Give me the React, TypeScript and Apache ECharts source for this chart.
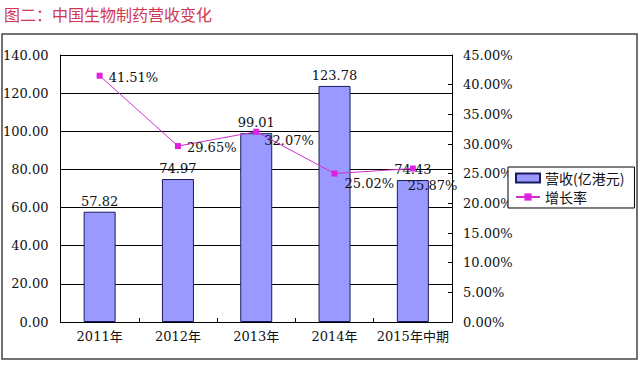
import React, { useEffect, useRef } from "react";
import * as echarts from "echarts";

const categories = ["2011年", "2012年", "2013年", "2014年", "2015年中期"];
const revenue = [57.82, 74.97, 99.01, 123.78, 74.43];
const growth = [41.51, 29.65, 32.07, 25.02, 25.87];
const growthLabelPos: [number, number][] = [
  [12, 5],
  [12, 4],
  [11, 12],
  [13, 13],
  [-2, 20],
];
const leftTicks = { min: 0, max: 140, interval: 20 };
const rightTicks = { min: 0, max: 45, interval: 5 };

const FONT = "'DejaVu Serif', 'Noto Sans CJK SC', serif";

export default function App() {
  const ref = useRef<HTMLDivElement>(null);
  useEffect(() => {
    if (!ref.current) return;
    const chart = echarts.init(ref.current, null, { renderer: "svg" });
    chart.setOption({
      animation: false,
      backgroundColor: "#ffffff",
      textStyle: { fontFamily: FONT },
      title: {
        text: "图二：中国生物制药营收变化",
        left: 2,
        top: 4,
        padding: 2,
        textStyle: {
          fontFamily: "'Noto Sans CJK SC', sans-serif",
          fontSize: 16,
          fontWeight: "normal",
          color: "#d03552",
        },
      },
      graphic: [
        {
          type: "rect",
          shape: { x: 2, y: 34, width: 635, height: 325 },
          style: { fill: "none", stroke: "#444", lineWidth: 1.5 },
          z: -1,
        },
      ],
      legend: {
        left: 508,
        top: 167,
        orient: "vertical",
        padding: [4, 10, 4, 7],
        itemGap: 5,
        itemWidth: 24,
        itemHeight: 9,
        borderColor: "#000",
        borderWidth: 1,
        backgroundColor: "#fff",
        textStyle: {
          fontFamily: "'Noto Sans CJK SC', sans-serif",
          fontSize: 14,
          color: "#111",
        },
        data: [
          { name: "营收(亿港元)", icon: "rect" },
          { name: "增长率" },
        ],
      },
      grid: { left: 60, right: 188, top: 55, bottom: 48, containLabel: false },
      xAxis: {
        type: "category",
        data: categories,
        axisLine: { show: true, lineStyle: { color: "#000", width: 1 } },
        axisTick: { show: true, inside: true, length: 4, lineStyle: { color: "#000" } },
        axisLabel: { color: "#111", fontSize: 13, margin: 8, interval: 0, fontFamily: FONT },
      },
      yAxis: [
        {
          type: "value",
          min: leftTicks.min,
          max: leftTicks.max,
          interval: leftTicks.interval,
          position: "left",
          axisLine: { show: true, lineStyle: { color: "#000" } },
          axisTick: { show: false },
          splitLine: { show: true, lineStyle: { color: "#000", width: 1 } },
          axisLabel: {
            color: "#111",
            fontSize: 13,
            margin: 12,
            fontFamily: FONT,
            formatter: (v: number) => v.toFixed(2),
          },
        },
        {
          type: "value",
          min: rightTicks.min,
          max: rightTicks.max,
          interval: rightTicks.interval,
          position: "right",
          axisLine: { show: true, lineStyle: { color: "#000" } },
          axisTick: { show: true, inside: true, length: 4, lineStyle: { color: "#000" } },
          splitLine: { show: false },
          axisLabel: {
            color: "#111",
            fontSize: 13,
            margin: 11,
            fontFamily: FONT,
            formatter: (v: number) => v.toFixed(2) + "%",
          },
        },
      ],
      series: [
        {
          name: "营收(亿港元)",
          type: "bar",
          yAxisIndex: 0,
          barWidth: 32,
          data: revenue,
          itemStyle: { color: "#9999ff", borderColor: "#1a1a5e", borderWidth: 1 },
          label: {
            show: true,
            position: "top",
            distance: 4,
            color: "#111",
            fontSize: 13,
            fontFamily: FONT,
            formatter: (p: any) => p.value.toFixed(2),
          },
        },
        {
          name: "增长率",
          type: "line",
          yAxisIndex: 1,
          symbol: "rect",
          symbolSize: 6,
          lineStyle: { color: "#d030d0", width: 1 },
          itemStyle: { color: "#e020e0" },
          data: growth.map((v, i) => ({
            value: v,
            label: {
              show: true,
              position: growthLabelPos[i],
              align: "left",
              verticalAlign: "middle",
              color: "#111",
              fontSize: 13,
              fontFamily: FONT,
              formatter: (p: any) => p.value.toFixed(2) + "%",
            },
          })),
          z: 5,
        },
      ],
    });
    return () => chart.dispose();
  }, []);
  return (
    <div
      ref={ref}
      style={{ position: "fixed", left: 0, top: 0, width: 640, height: 370 }}
    />
  );
}
